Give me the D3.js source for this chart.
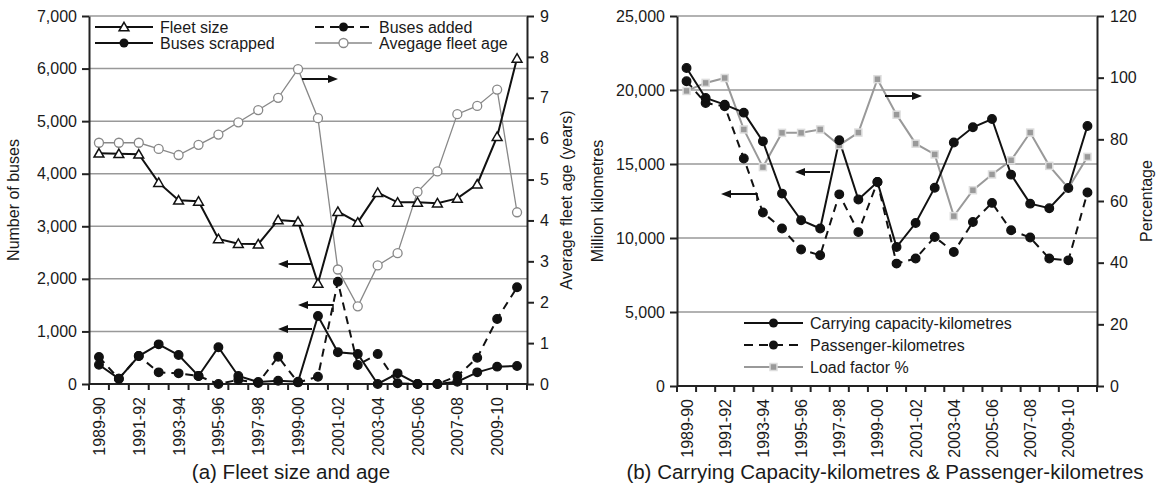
<!DOCTYPE html>
<html>
<head>
<meta charset="utf-8">
<script src="https://cdn.jsdelivr.net/npm/d3@7"></script>
<style>
  body { margin: 0; background: #fff; }
  svg text { font-family: "Liberation Sans", Arial, sans-serif; fill: #1a1a1a; }
  .tick text { font-size: 16px; }
  .axis path, .axis line { stroke: #222; stroke-width: 2; }
  .grid line { stroke: #999; stroke-width: 1.5; }
</style>
</head>
<body>
<div id="chart"></div>
<script>
var years = ["1989-90","1990-91","1991-92","1992-93","1993-94","1994-95","1995-96","1996-97",
  "1997-98","1998-99","1999-00","2000-01","2001-02","2002-03","2003-04","2004-05","2005-06",
  "2006-07","2007-08","2008-09","2009-10","2010-11"];

// panel (a)
var fleetSize = [4390,4380,4370,3830,3495,3475,2760,2670,2660,3120,3090,1915,3280,3075,3640,3455,3455,3440,3530,3800,4705,6195];
var busesScrapped = [367,101,532,754,551,152,698,152,38,63,44,1293,603,571,0,203,0,0,44,222,330,342];
var busesAdded = [513,101,532,222,203,152,0,80,20,519,30,139,1946,361,571,13,0,0,152,500,1236,1839];
var fleetAge = [5.9,5.9,5.9,5.75,5.6,5.85,6.1,6.4,6.7,7.0,7.7,6.5,2.8,1.9,2.9,3.2,4.7,5.2,6.6,6.8,7.2,4.2];

// panel (b)
var carryingKm = [21490,19460,19010,18470,16530,13000,11200,10640,16600,12600,13780,9390,11010,13400,16450,17480,18040,14280,12320,12010,13380,17570];
var passengerKm = [20590,19120,18900,15370,11720,10640,9220,8830,12950,10400,13780,8270,8610,10070,9050,11080,12370,10520,10030,8610,8490,13070];
var loadFactor = [95.7,98.3,99.9,83.2,71.0,82.1,82.1,83.2,78.1,82.2,99.5,88.0,78.6,75.1,55.1,63.5,68.6,73.2,82.2,71.4,64.2,74.3];

var leftTicksA = [0,1000,2000,3000,4000,5000,6000,7000];
var rightTicksA = [0,1,2,3,4,5,6,7,8,9];
var leftTicksB = [0,5000,10000,15000,20000,25000];
var rightTicksB = [0,20,40,60,80,100,120];
var shownYears = years.filter(function(d, i) { return i % 2 === 0 && i < 21; });

var svg = d3.select("#chart").append("svg")
  .attr("width", 1159)
  .attr("height", 485);

var dash = "8,6";

function panel(opt) {
  var g = svg.append("g");
  var x = d3.scaleBand().domain(years).range([opt.left, opt.right]);
  var yL = d3.scaleLinear().domain([0, opt.leftMax]).range([opt.bottom, opt.top]);
  var yR = d3.scaleLinear().domain([0, opt.rightMax]).range([opt.bottom, opt.top]);
  var cx = function(i) { return x(years[i]) + x.bandwidth() / 2; };

  // gridlines
  g.append("g").attr("class", "grid")
    .selectAll("line").data(opt.leftTicks.slice(1)).enter().append("line")
    .attr("x1", opt.left).attr("x2", opt.right)
    .attr("y1", d => yL(d)).attr("y2", d => yL(d));

  var fmt = d3.format(",");
  g.append("g").attr("class", "axis")
    .attr("transform", "translate(" + opt.left + ",0)")
    .call(d3.axisLeft(yL).tickValues(opt.leftTicks).tickFormat(fmt).tickSize(7).tickPadding(5).tickSizeOuter(0));
  g.append("g").attr("class", "axis")
    .attr("transform", "translate(" + opt.right + ",0)")
    .call(d3.axisRight(yR).tickValues(opt.rightTicks).tickSize(7).tickPadding(6).tickSizeOuter(0));

  // x axis with ticks on band edges
  var xa = g.append("g").attr("class", "axis")
    .attr("transform", "translate(0," + opt.bottom + ")");
  xa.append("line").attr("x1", opt.left).attr("x2", opt.right).attr("y1", 0).attr("y2", 0);
  xa.selectAll(".edge").data(years.concat(["end"])).enter().append("line")
    .attr("class", "edge")
    .attr("x1", (d, i) => i < years.length ? x(d) : opt.right)
    .attr("x2", (d, i) => i < years.length ? x(d) : opt.right)
    .attr("y1", 0).attr("y2", 6);
  xa.selectAll("text").data(shownYears).enter().append("text")
    .attr("transform", d => "translate(" + (x(d) + x.bandwidth() / 2 + 6) + ",13) rotate(-90)")
    .attr("text-anchor", "end")
    .style("font-size", "16px")
    .text(d => d);

  g.append("text")
    .attr("transform", "translate(" + opt.leftTitleX + "," + (opt.top + opt.bottom) / 2 + ") rotate(-90)")
    .attr("text-anchor", "middle").style("font-size", "16px").text(opt.leftTitle);
  g.append("text")
    .attr("transform", "translate(" + opt.rightTitleX + "," + (opt.top + opt.bottom) / 2 + ") rotate(-90)")
    .attr("text-anchor", "middle").style("font-size", "16px").text(opt.rightTitle);
  g.append("text")
    .attr("x", opt.titleX).attr("y", 479)
    .attr("text-anchor", "middle").style("font-size", "20.5px").text(opt.title);

  return { g: g, x: x, yL: yL, yR: yR, cx: cx };
}

function drawLine(p, data, y, color, width, dashed) {
  var line = d3.line().x((d, i) => p.cx(i)).y(d => y(d));
  p.g.append("path").datum(data)
    .attr("d", line).attr("fill", "none")
    .attr("stroke", color).attr("stroke-width", width)
    .attr("stroke-dasharray", dashed ? dash : null);
}

function dots(p, data, y, fill, stroke, r) {
  p.g.selectAll(null).data(data).enter().append("circle")
    .attr("cx", (d, i) => p.cx(i)).attr("cy", d => y(d)).attr("r", r)
    .attr("fill", fill).attr("stroke", stroke).attr("stroke-width", 1.3);
}

var tri = d3.symbol().type(d3.symbolTriangle).size(42);
function triangles(p, data, y) {
  p.g.selectAll(null).data(data).enter().append("path")
    .attr("d", tri)
    .attr("transform", (d, i) => "translate(" + p.cx(i) + "," + (y(d) + 1) + ")")
    .attr("fill", "#fff").attr("stroke", "#111").attr("stroke-width", 1.5);
}

function squares(p, data, y) {
  p.g.selectAll(null).data(data).enter().append("rect")
    .attr("x", (d, i) => p.cx(i) - 3.5).attr("y", d => y(d) - 3.5)
    .attr("width", 7).attr("height", 7)
    .attr("fill", "#999").attr("stroke", "#ddd").attr("stroke-width", 1.5);
}

function arrow(g, x1, x2, y, tick) {
  var dir = x2 < x1 ? 1 : -1;
  g.append("line").attr("x1", x1).attr("x2", x2 + dir * 6).attr("y1", y).attr("y2", y)
    .attr("stroke", "#111").attr("stroke-width", 2);
  g.append("path")
    .attr("d", "M" + x2 + "," + y + "L" + (x2 + dir * 10) + "," + (y - 4) + "L" + (x2 + dir * 10) + "," + (y + 4) + "Z")
    .attr("fill", "#111");
  if (tick) {
    g.append("line").attr("x1", x1).attr("x2", x1).attr("y1", y - 1).attr("y2", y + 7)
      .attr("stroke", "#111").attr("stroke-width", 1.5);
  }
}

function legendRow(g, x1, x2, y, label, kind) {
  var mid = (x1 + x2) / 2;
  if (kind === "fleet") {
    g.append("line").attr("x1", x1).attr("x2", x2).attr("y1", y).attr("y2", y).attr("stroke", "#111").attr("stroke-width", 2);
    g.append("path").attr("d", tri).attr("transform", "translate(" + mid + "," + (y + 1) + ")")
      .attr("fill", "#fff").attr("stroke", "#111").attr("stroke-width", 1.5);
  } else if (kind === "solid") {
    g.append("line").attr("x1", x1).attr("x2", x2).attr("y1", y).attr("y2", y).attr("stroke", "#111").attr("stroke-width", 2);
    g.append("circle").attr("cx", mid).attr("cy", y).attr("r", 4.5).attr("fill", "#111");
  } else if (kind === "dashed") {
    g.append("line").attr("x1", x1).attr("x2", x2).attr("y1", y).attr("y2", y).attr("stroke", "#111").attr("stroke-width", 2).attr("stroke-dasharray", "9,6");
    g.append("circle").attr("cx", mid).attr("cy", y).attr("r", 4.5).attr("fill", "#111");
  } else if (kind === "age") {
    g.append("line").attr("x1", x1).attr("x2", x2).attr("y1", y).attr("y2", y).attr("stroke", "#888").attr("stroke-width", 1.3);
    g.append("circle").attr("cx", mid).attr("cy", y).attr("r", 4.5).attr("fill", "#fff").attr("stroke", "#888").attr("stroke-width", 1.3);
  } else if (kind === "load") {
    g.append("line").attr("x1", x1).attr("x2", x2).attr("y1", y).attr("y2", y).attr("stroke", "#999").attr("stroke-width", 2);
    g.append("rect").attr("x", mid - 3.5).attr("y", y - 3.5).attr("width", 7).attr("height", 7)
      .attr("fill", "#999").attr("stroke", "#ddd").attr("stroke-width", 1.5);
  }
  g.append("text").attr("x", x2 + 7).attr("y", y + 6).style("font-size", "16px").text(label);
}

// ---- panel (a)
var pa = panel({
  left: 89, right: 527, top: 16, bottom: 384,
  leftMax: 7000, rightMax: 9, leftTicks: leftTicksA, rightTicks: rightTicksA,
  leftTitleX: 19, rightTitleX: 572, titleX: 291,
  leftTitle: "Number of buses", rightTitle: "Average fleet age (years)",
  title: "(a) Fleet size and age"
});

drawLine(pa, fleetAge, pa.yR, "#888", 1.3, false);
drawLine(pa, busesAdded, pa.yL, "#111", 2, true);
drawLine(pa, busesScrapped, pa.yL, "#111", 2, false);
drawLine(pa, fleetSize, pa.yL, "#111", 2, false);
dots(pa, fleetAge, pa.yR, "#fff", "#888", 4.5);
dots(pa, busesAdded, pa.yL, "#111", "#111", 4.3);
dots(pa, busesScrapped, pa.yL, "#111", "#111", 4.3);
triangles(pa, fleetSize, pa.yL);

arrow(pa.g, 302, 338, 79, false);
arrow(pa.g, 312, 278, 264, false);
arrow(pa.g, 333, 298, 305, true);
arrow(pa.g, 312, 278, 329, false);

legendRow(pa.g, 95, 153, 27, "Fleet size", "fleet");
legendRow(pa.g, 95, 153, 43, "Buses scrapped", "solid");
legendRow(pa.g, 315, 372, 27, "Buses added", "dashed");
legendRow(pa.g, 315, 372, 43, "Avegage fleet age", "age");

// ---- panel (b)
var pb = panel({
  left: 677, right: 1097, top: 16, bottom: 386,
  leftMax: 25000, rightMax: 120, leftTicks: leftTicksB, rightTicks: rightTicksB,
  leftTitleX: 603, rightTitleX: 1152, titleX: 885,
  leftTitle: "Million kilometres", rightTitle: "Percentage",
  title: "(b) Carrying Capacity-kilometres & Passenger-kilometres"
});

drawLine(pb, loadFactor, pb.yR, "#999", 2, false);
drawLine(pb, passengerKm, pb.yL, "#111", 2, true);
drawLine(pb, carryingKm, pb.yL, "#111", 2, false);
squares(pb, loadFactor, pb.yR);
dots(pb, passengerKm, pb.yL, "#111", "#111", 4.3);
dots(pb, carryingKm, pb.yL, "#111", "#111", 4.3);

arrow(pb.g, 885, 922, 96, false);
arrow(pb.g, 830, 795, 172, false);
arrow(pb.g, 757, 721, 194, true);

legendRow(pb.g, 744, 803, 323, "Carrying capacity-kilometres", "solid");
legendRow(pb.g, 744, 803, 345, "Passenger-kilometres", "dashed");
legendRow(pb.g, 744, 803, 367, "Load factor %", "load");
</script>
</body>
</html>
